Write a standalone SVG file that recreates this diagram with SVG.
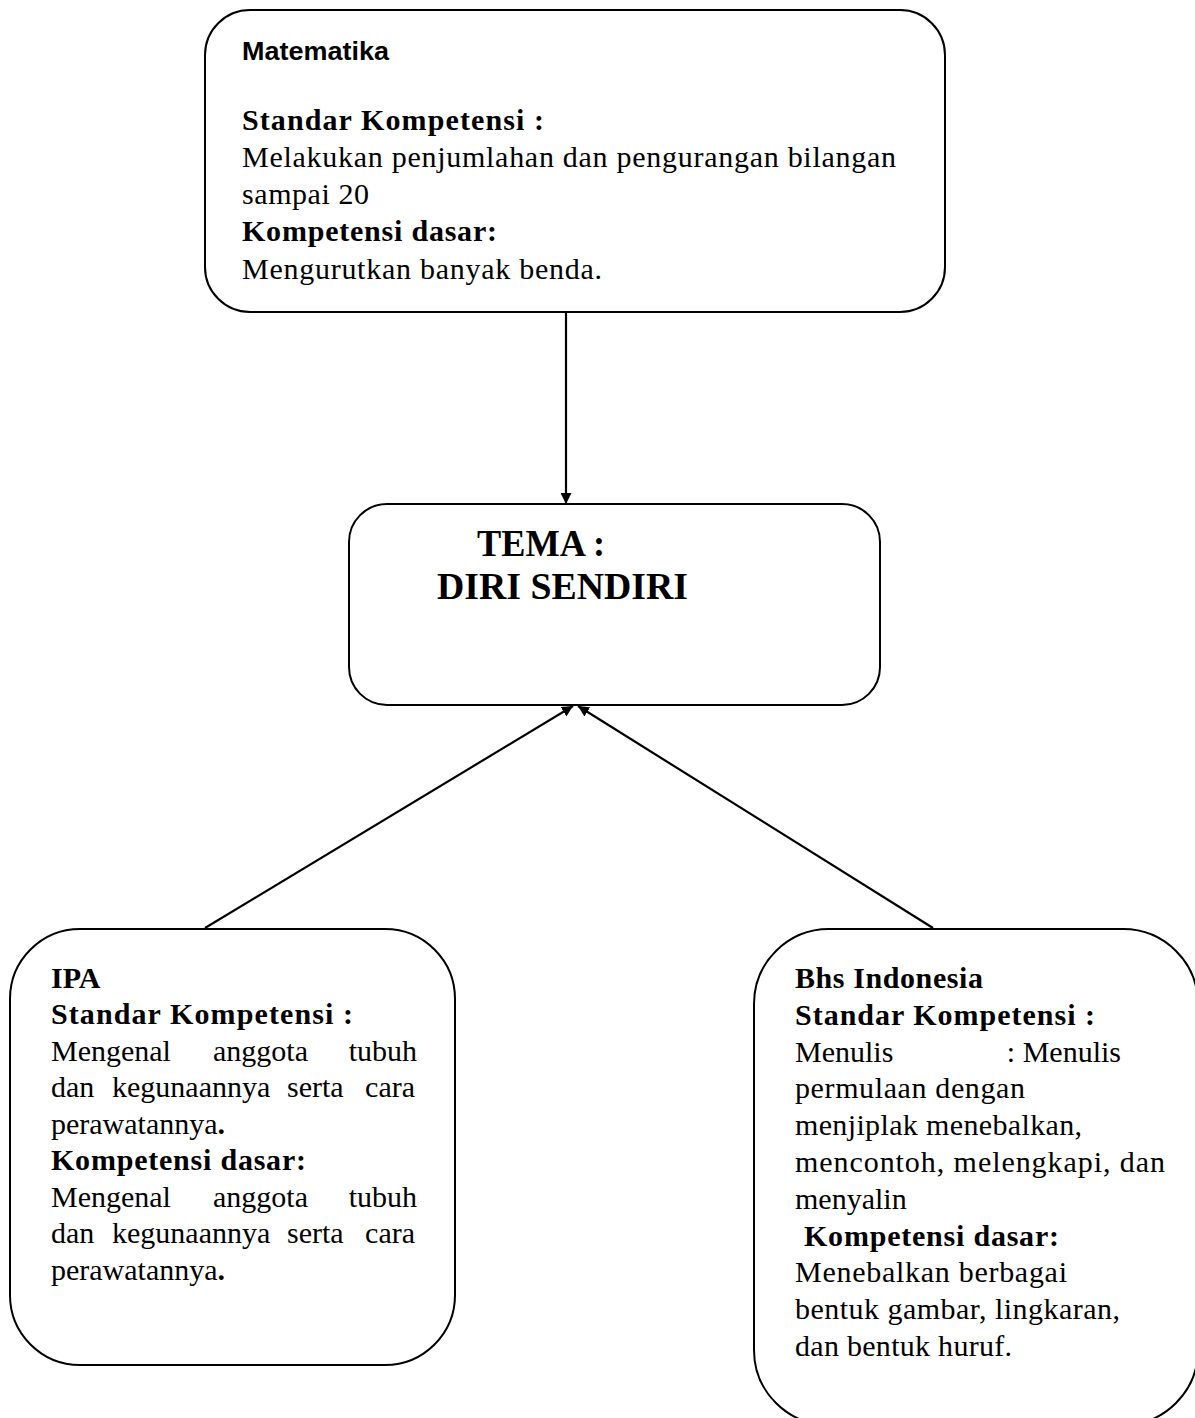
<svg xmlns="http://www.w3.org/2000/svg" width="1195" height="1418" viewBox="0 0 1195 1418">
<style>
.box{fill:#fff;stroke:#000;stroke-width:2}
.conn{stroke:#000;stroke-width:2.2;fill:none}
text{fill:#000}
.r{font-family:"Liberation Serif","Times New Roman",serif;font-size:30px}
.b{font-family:"Liberation Serif","Times New Roman",serif;font-size:30px;font-weight:bold}
.t{font-family:"Liberation Serif","Times New Roman",serif;font-size:38px;font-weight:bold}
.s{font-family:"Liberation Sans",Arial,sans-serif;font-size:25px;font-weight:bold}
</style>
<defs>
<marker id="arr" markerWidth="11" markerHeight="11" refX="11" refY="5.5" orient="auto" markerUnits="userSpaceOnUse">
<path d="M0,0 L11,5.5 L0,11 z" fill="#000"/>
</marker>
</defs>
<rect width="1195" height="1418" fill="#fff"/>
<g id="matematika">
<rect class="box" x="205" y="10" width="740" height="302" rx="45"/>
<text class="s" x="242" y="60" textLength="147" lengthAdjust="spacingAndGlyphs">Matematika</text>
<text class="b" x="242" y="130" textLength="302" lengthAdjust="spacing">Standar Kompetensi :</text>
<text class="r" x="242" y="167" textLength="654" lengthAdjust="spacing">Melakukan penjumlahan dan pengurangan bilangan</text>
<text class="r" x="242" y="204" textLength="127" lengthAdjust="spacing">sampai 20</text>
<text class="b" x="242" y="241" textLength="255" lengthAdjust="spacing">Kompetensi dasar:</text>
<text class="r" x="242" y="279" textLength="360" lengthAdjust="spacing">Mengurutkan banyak benda.</text>
</g>
<g id="tema">
<rect class="box" x="349" y="504" width="531" height="201" rx="38"/>
<text class="t" x="477" y="556" textLength="128" lengthAdjust="spacingAndGlyphs">TEMA :</text>
<text class="t" x="437" y="599" textLength="251" lengthAdjust="spacingAndGlyphs">DIRI SENDIRI</text>
</g>
<g id="ipa">
<rect class="box" x="10" y="929" width="445" height="436" rx="70"/>
<text class="b" x="51" y="988">IPA</text>
<text class="b" x="51" y="1024" textLength="302" lengthAdjust="spacing">Standar Kompetensi :</text>
<text class="r" y="1061"><tspan x="51">Mengenal</tspan><tspan x="213">anggota</tspan><tspan x="417" text-anchor="end">tubuh</tspan></text>
<text class="r" y="1097"><tspan x="51">dan</tspan><tspan x="112">kegunaannya</tspan><tspan x="287">serta</tspan><tspan x="415" text-anchor="end">cara</tspan></text>
<text class="r" x="51" y="1134">perawatannya<tspan font-weight="bold">.</tspan></text>
<text class="b" x="51" y="1170" textLength="255" lengthAdjust="spacing">Kompetensi dasar:</text>
<text class="r" y="1207"><tspan x="51">Mengenal</tspan><tspan x="213">anggota</tspan><tspan x="417" text-anchor="end">tubuh</tspan></text>
<text class="r" y="1243"><tspan x="51">dan</tspan><tspan x="112">kegunaannya</tspan><tspan x="287">serta</tspan><tspan x="415" text-anchor="end">cara</tspan></text>
<text class="r" x="51" y="1280">perawatannya<tspan font-weight="bold">.</tspan></text>
</g>
<g id="bhs-indonesia">
<rect class="box" x="754" y="929" width="444" height="496" rx="75"/>
<text class="b" x="795" y="988" textLength="188" lengthAdjust="spacing">Bhs Indonesia</text>
<text class="b" x="795" y="1025" textLength="300" lengthAdjust="spacing">Standar Kompetensi :</text>
<text class="r" y="1062"><tspan x="795">Menulis</tspan><tspan x="1121" text-anchor="end">: Menulis</tspan></text>
<text class="r" x="795" y="1098" textLength="230" lengthAdjust="spacing">permulaan dengan</text>
<text class="r" x="795" y="1135" textLength="287" lengthAdjust="spacing">menjiplak menebalkan,</text>
<text class="r" x="795" y="1172" textLength="370" lengthAdjust="spacing">mencontoh, melengkapi, dan</text>
<text class="r" x="795" y="1209">menyalin</text>
<text class="b" x="804" y="1246" textLength="255" lengthAdjust="spacing">Kompetensi dasar:</text>
<text class="r" x="795" y="1282" textLength="272" lengthAdjust="spacing">Menebalkan berbagai</text>
<text class="r" x="795" y="1319" textLength="325" lengthAdjust="spacing">bentuk gambar, lingkaran,</text>
<text class="r" x="795" y="1356" textLength="217" lengthAdjust="spacing">dan bentuk huruf.</text>
</g>
<g id="connectors">
<line class="conn" x1="566" y1="312" x2="566" y2="504" marker-end="url(#arr)"/>
<line class="conn" x1="205" y1="928" x2="573" y2="706" marker-end="url(#arr)"/>
<line class="conn" x1="933" y1="928" x2="578" y2="706" marker-end="url(#arr)"/>
</g>
</svg>
